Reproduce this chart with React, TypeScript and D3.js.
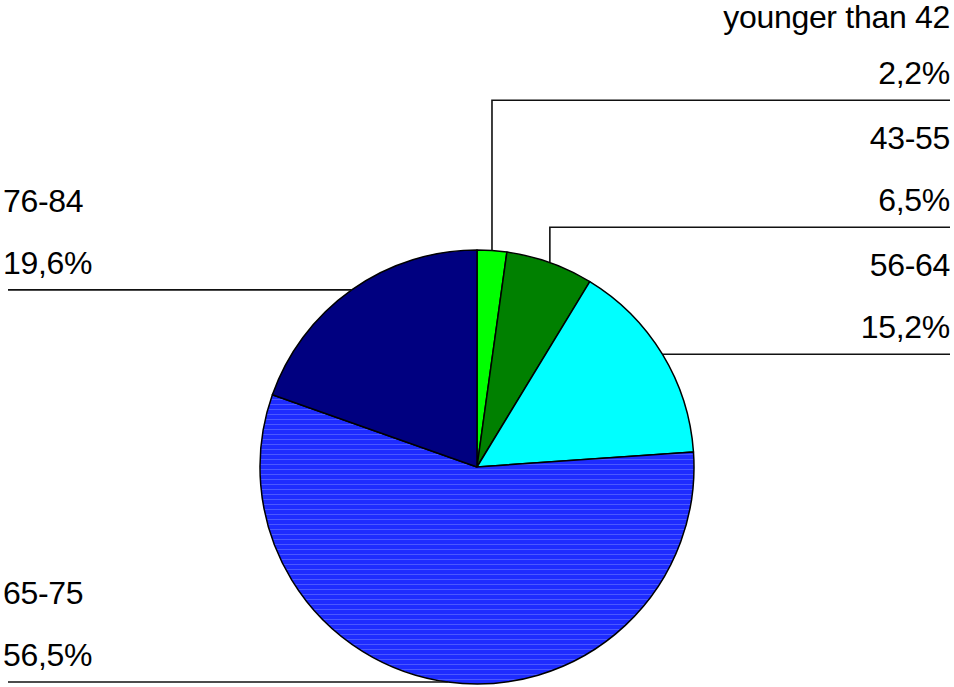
import React, { useRef, useEffect } from 'react';
import * as d3 from 'd3';

const categories = ['younger than 42', '43-55', '56-64', '65-75', '76-84'];
const shares = [2.2, 6.5, 15.2, 56.5, 19.6];
const colors = ['#00ff00', '#008000', '#00ffff', 'url(#blueStripes)', '#000080'];

const W = 954;
const H = 687;

const App: React.FC = () => {
  const svgRef = useRef<SVGSVGElement>(null);

  useEffect(() => {
    if (!svgRef.current) return;
    const svg = d3.select(svgRef.current);
    svg.selectAll('*').remove();

    const cx = 477;
    const cy = 467;
    const r = 217;

    // stripe pattern for the big blue slice
    const defs = svg.append('defs');
    const pat = defs.append('pattern')
      .attr('id', 'blueStripes')
      .attr('patternUnits', 'userSpaceOnUse')
      .attr('width', 8)
      .attr('height', 5);
    pat.append('rect').attr('width', 8).attr('height', 5).attr('fill', '#1e2cff');
    pat.append('rect').attr('y', 2).attr('width', 8).attr('height', 1).attr('fill', '#4a58ff');

    const data = categories.map((c, i) => ({ name: c, value: shares[i], color: colors[i] }));

    const pie = d3.pie<typeof data[0]>()
      .value(d => d.value)
      .sort(null)
      .startAngle(0)
      .endAngle(2 * Math.PI);
    const arcs = pie(data);
    const arc = d3.arc<d3.PieArcDatum<typeof data[0]>>().innerRadius(0).outerRadius(r);

    const g = svg.append('g').attr('transform', `translate(${cx},${cy})`);
    g.selectAll('path')
      .data(arcs)
      .join('path')
      .attr('d', arc)
      .attr('fill', d => d.data.color)
      .attr('stroke', '#000')
      .attr('stroke-width', 1.5)
      .attr('stroke-linejoin', 'round');

    // label placement: right-side labels stacked upwards when they collide
    const spacing = 127;
    const anchors = arcs.map(a => {
      const mid = (a.startAngle + a.endAngle) / 2;
      return {
        a,
        x: cx + r * Math.sin(mid),
        y: cy - r * Math.cos(mid),
        right: Math.sin(mid) > 0,
      };
    });

    const right = anchors.filter(d => d.right).sort((p, q) => q.y - p.y);
    let prev = Infinity;
    const placed: { x: number; y: number; ly: number; right: boolean; name: string; value: number }[] = [];
    right.forEach(d => {
      const ly = Math.min(d.y, prev - spacing);
      prev = ly;
      placed.push({ x: d.x, y: d.y, ly, right: true, name: d.a.data.name, value: d.a.data.value });
    });
    anchors.filter(d => !d.right).forEach(d => {
      placed.push({ x: d.x, y: d.y, ly: d.y, right: false, name: d.a.data.name, value: d.a.data.value });
    });

    const fmt = (v: number) => v.toFixed(1).replace('.', ',') + '%';

    placed.forEach(p => {
      const edge = p.right ? 950 : 8;
      const pts: [number, number][] = [[p.x, p.y]];
      if (Math.abs(p.ly - p.y) > 0.5) pts.push([p.x, p.ly]);
      pts.push([edge, p.ly]);
      svg.append('path')
        .attr('d', d3.line()(pts))
        .attr('fill', 'none')
        .attr('stroke', '#111')
        .attr('stroke-width', 1.6);

      const anchor = p.right ? 'end' : 'start';
      const tx = p.right ? 950 : 3;
      const txt = (s: string, y: number) => svg.append('text')
        .attr('x', tx)
        .attr('y', y)
        .attr('text-anchor', anchor)
        .attr('font-family', 'Liberation Sans, Arial, sans-serif')
        .attr('font-size', 32)
        .attr('letter-spacing', -0.3)
        .attr('fill', '#000')
        .text(s);
      txt(fmt(p.value), p.ly - 16);
      txt(p.name, Math.max(28, p.ly - 78));
    });
  }, []);

  return (
    <svg
      ref={svgRef}
      width={W}
      height={H}
      style={{ position: 'absolute', left: 0, top: 0, background: '#fff' }}
    />
  );
};

export default App;
